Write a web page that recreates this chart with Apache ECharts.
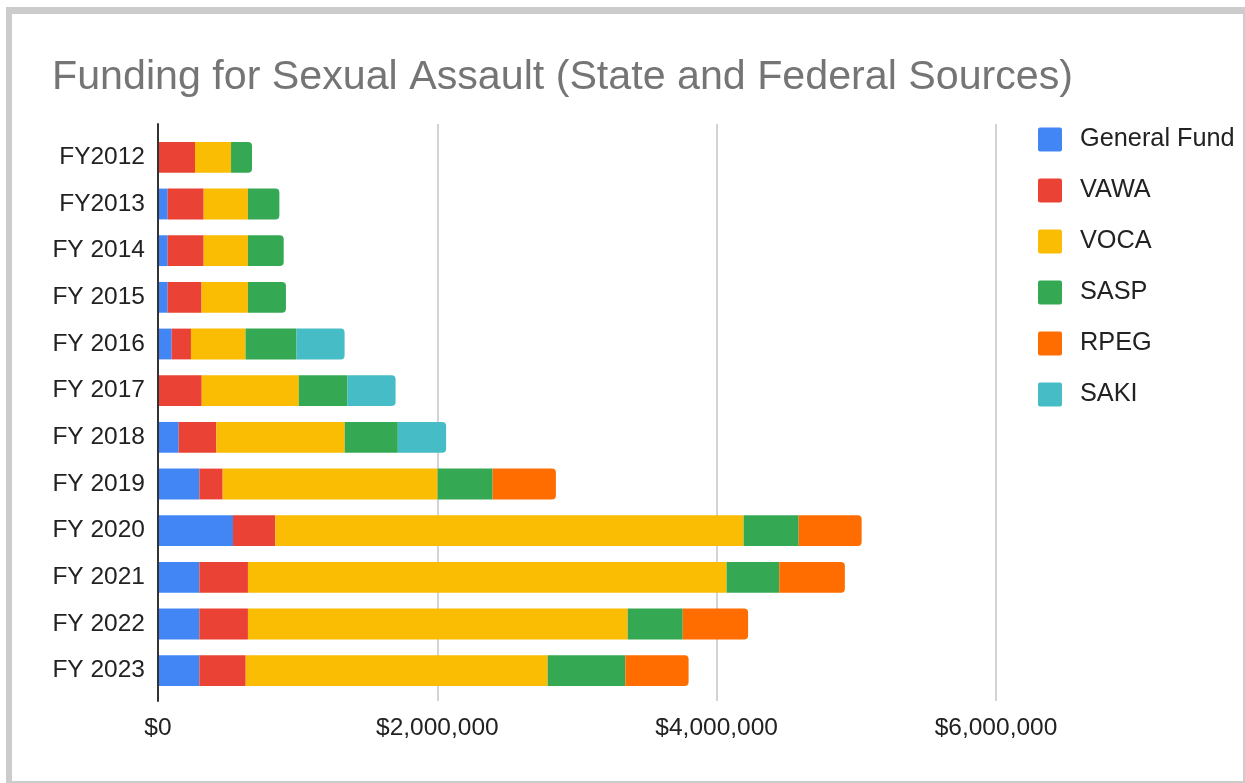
<!DOCTYPE html>
<html>
<head>
<meta charset="utf-8">
<script src="https://cdn.jsdelivr.net/npm/echarts@6/dist/echarts.min.js"></script>
<style>
  html, body { margin: 0; padding: 0; background: #fff; }
  #chart { position: absolute; left: 0; top: 0; width: 1245px; height: 783px; }
  .bd { position: absolute; background: #cccccc; pointer-events: none; }
</style>
</head>
<body>
<div id="chart"></div>
<div class="bd" style="left:6px; top:7px; width:1239px; height:7px;"></div>
<div class="bd" style="left:6px; top:7px; width:6px; height:776px;"></div>
<div class="bd" style="left:1243px; top:7px; width:2px; height:776px;"></div>
<div class="bd" style="left:6px; top:781px; width:1239px; height:2px;"></div>
<script>
const categories = ['FY2012','FY2013','FY 2014','FY 2015','FY 2016','FY 2017','FY 2018','FY 2019','FY 2020','FY 2021','FY 2022','FY 2023'];
const seriesNames = ['General Fund','VAWA','VOCA','SASP','RPEG','SAKI'];
const generalFund = [0, 69000, 69000, 69000, 98000, 0, 148000, 296000, 537000, 296000, 296000, 296000];
const vawa        = [265000, 258000, 258000, 243000, 138000, 313000, 270000, 167000, 303000, 348000, 348000, 332000];
const voca        = [258000, 317000, 317000, 332000, 391000, 695000, 919000, 1539000, 3353000, 3427000, 2719000, 2162000];
const sasp        = [150000, 225000, 256000, 272000, 365000, 349000, 380000, 394000, 394000, 377000, 394000, 556000];
const rpeg        = [0, 0, 0, 0, 0, 0, 0, 453000, 451000, 470000, 468000, 453000];
const saki        = [0, 0, 0, 0, 344000, 344000, 346000, 0, 0, 0, 0, 0];
const xTicks = [0, 2000000, 4000000, 6000000];
const colors = ['#4285f4','#ea4335','#fbbc04','#34a853','#ff6d01','#46bdc6'];

const allSeries = [generalFund, vawa, voca, sasp, rpeg, saki];
const font = 'Arial, "Liberation Sans", sans-serif';

// last non-zero segment for each category gets rounded right end
const lastIdx = categories.map((c, i) => {
  let li = -1;
  allSeries.forEach((s, si) => { if (s[i] > 0) li = si; });
  return li;
});

const series = allSeries.map((arr, si) => ({
  name: seriesNames[si],
  type: 'bar',
  stack: 'total',
  xAxisIndex: 1,
  yAxisIndex: 1,
  barWidth: '66%',
  itemStyle: { color: colors[si] },
  emphasis: { disabled: true },
  data: arr.map((v, i) => lastIdx[i] === si
    ? { value: v, itemStyle: { borderRadius: [0, 4, 4, 0] } }
    : v)
}));

const squareIcon = 'path://M2,0 H22 A2,2 0 0 1 24,2 V22 A2,2 0 0 1 22,24 H2 A2,2 0 0 1 0,22 V2 A2,2 0 0 1 2,0 Z';

const chart = echarts.init(document.getElementById('chart'), null, { renderer: 'canvas' });
chart.setOption({
  animation: false,
  backgroundColor: '#ffffff',
  title: {
    text: 'Funding for Sexual Assault (State and Federal Sources)',
    left: 52, top: 57, padding: 0,
    textStyle: { fontFamily: font, fontSize: 41.2, fontWeight: 'normal', color: '#757575' }
  },
  legend: {
    orient: 'vertical',
    left: 1038, top: 127,
    padding: 0,
    itemWidth: 24, itemHeight: 24, itemGap: 26,
    icon: squareIcon,
    data: seriesNames,
    textStyle: { fontFamily: font, fontSize: 25.3, color: '#222222', padding: [4, 0, 0, 13] }
  },
  grid: [
    { left: 158, right: 249, top: 124, bottom: 82 },
    { left: 158, right: 249, top: 134, bottom: 89 }
  ],
  xAxis: [
    {
      gridIndex: 0, type: 'value', min: xTicks[0], max: xTicks[xTicks.length - 1], interval: xTicks[1] - xTicks[0],
      axisLine: { show: false }, axisTick: { show: false },
      splitLine: { show: true, lineStyle: { color: '#d3d3d3', width: 2 } },
      axisLabel: {
        margin: 15, fontFamily: font, fontSize: 24.5, color: '#222222',
        formatter: v => '$' + Number(v).toLocaleString('en-US')
      }
    },
    {
      gridIndex: 1, type: 'value', min: xTicks[0], max: xTicks[xTicks.length - 1], interval: xTicks[1] - xTicks[0],
      show: false, splitLine: { show: false }
    }
  ],
  yAxis: [
    {
      gridIndex: 0, type: 'value', min: 0, max: 1, z: 10,
      axisLabel: { show: false }, axisTick: { show: false }, splitLine: { show: false },
      axisLine: { show: true, lineStyle: { color: '#333333', width: 2 } }
    },
    {
      gridIndex: 1, type: 'category', data: categories, inverse: true,
      axisLine: { show: false }, axisTick: { show: false },
      axisLabel: { margin: 13, fontFamily: font, fontSize: 24.5, color: '#222222' }
    }
  ],
  series: series
});
</script>
</body>
</html>
